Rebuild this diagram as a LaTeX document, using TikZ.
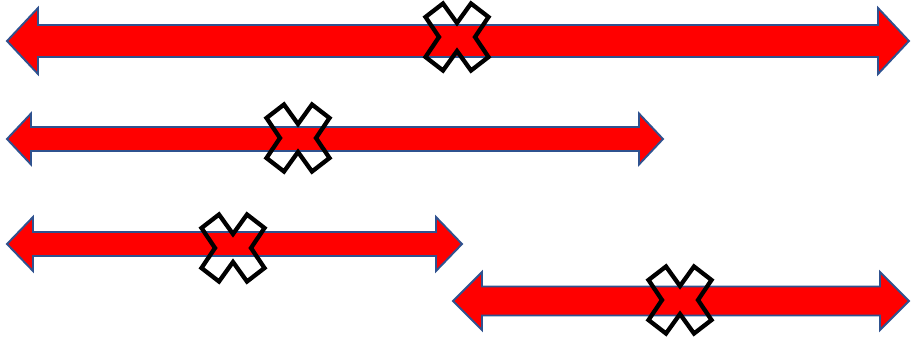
\documentclass[tikz,border=0pt]{standalone}
\definecolor{rimblue}{HTML}{2F528F}

% double-headed block arrow: left x, right x, mid y, shaft half, head half, head length
\newcommand{\dblarrow}[6]{%
  \filldraw[barrow] (#1,#3) -- ++(#6,-#5) -- ++(0,#5-#4) -- (#2-#6,#3-#4)
    -- ++(0,#4-#5) -- (#2,#3) -- ++(-#6,#5) -- ++(0,#4-#5) -- (#1+#6,#3+#4)
    -- ++(0,#5-#4) -- cycle;}

\tikzset{
  barrow/.style={fill=red, draw=rimblue, line width=1.9pt, line join=miter},
  xline/.style={draw=black, line width=4.3pt, line join=miter},
  xmark/.pic={
    \draw[xline] (-14,-33.5) -- (0,-14) -- (14,-33.5) -- (31.5,-20) -- (18,0)
      -- (31.5,20) -- (14,33.5) -- (0,14) -- (-14,33.5) -- (-31.5,20) -- (-18,0)
      -- (-31.5,-20) -- cycle;
  }
}

\begin{document}
\begin{tikzpicture}[x=1pt, y=-1pt]
  \useasboundingbox (0,0) rectangle (914,349);
  % the four arrows
  \dblarrow{7}{909}{41}{16}{33}{31}
  \dblarrow{7}{663}{139}{12}{25.5}{24}
  \dblarrow{7}{462}{244}{12}{27}{26}
  \dblarrow{453}{909}{301}{14.5}{29}{29}
  % crosses on top
  \coordinate (X1) at (457,37);
  \coordinate (X2) at (298,138);
  \coordinate (X3) at (233,248);
  \coordinate (X4) at (680,300);
  \foreach \p in {X1,X2,X3,X4}
    \pic at (\p) {xmark};
\end{tikzpicture}
\end{document}
